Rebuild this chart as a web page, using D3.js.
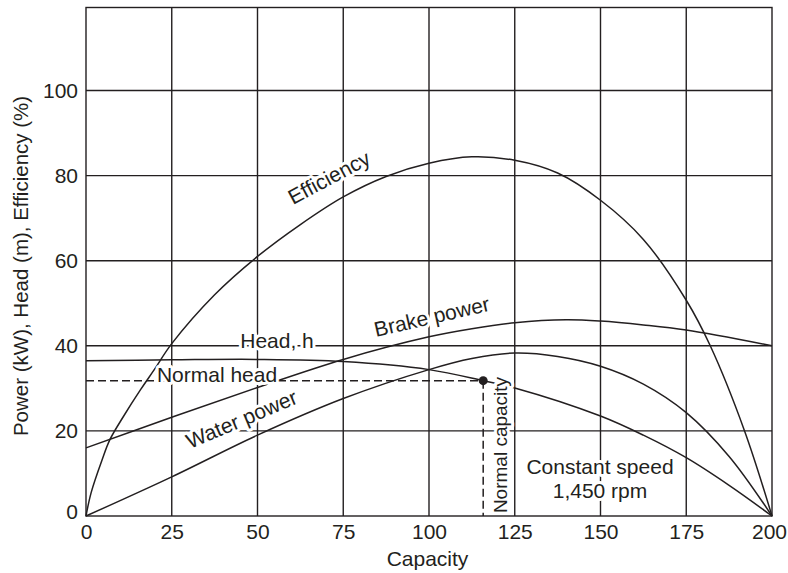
<!DOCTYPE html>
<html>
<head>
<meta charset="utf-8">
<script src="https://cdn.jsdelivr.net/npm/d3@7"></script>
<style>
  html, body { margin: 0; padding: 0; background: #fff; }
  svg { display: block; font-family: "Liberation Sans", Arial, Helvetica, sans-serif; }
</style>
</head>
<body>
<svg id="chart" width="788" height="573"></svg>
<script>
// ---- Data ----
const xTicks = [0, 25, 50, 75, 100, 125, 150, 175, 200];
const yTicks = [0, 20, 40, 60, 80, 100];

const effCapacity = [0, 1.5, 4.6, 7, 11, 16, 20, 25, 37.5, 50, 62.5, 75, 87.5, 100, 112.5, 125, 137.5, 150, 162.5, 175, 182, 192, 200];
const effValues   = [0, 5.5, 13, 18, 23.5, 29.8, 34.5, 40.5, 52, 61, 68.5, 75, 79.8, 82.9, 84.4, 83.6, 80.6, 74.2, 65, 50.7, 40, 20, 0];

const headCapacity = [0, 25, 50, 75, 100, 115.8, 125, 150, 162.5, 175, 187.5, 200];
const headValues   = [36.5, 36.7, 36.8, 36.3, 34.4, 31.8, 30.1, 23.5, 19, 13.7, 7.2, 0];

const brakeCapacity = [0, 25, 50, 75, 100, 112.5, 125, 140, 150, 162.5, 175, 200];
const brakeValues   = [16, 23.2, 30.2, 36.8, 42.1, 44, 45.4, 46.1, 45.8, 44.9, 43.7, 40];

const waterCapacity = [0, 25, 50, 75, 100, 112.5, 125, 137.5, 150, 162.5, 175, 187.5, 200];
const waterValues   = [0, 9.2, 19, 27.6, 34.4, 37, 38.3, 37.5, 35.2, 31, 24.3, 14, 0];

const normalCapacity = 115.8;
const normalHead = 31.8;

// ---- Layout ----
const svg = d3.select("#chart");
const ink = "#231f20";
const x = d3.scaleLinear().domain([0, 200]).range([86, 772]);
const y = d3.scaleLinear().domain([0, 119.5]).range([516, 7.5]);

// grid
const grid = svg.append("g").attr("stroke", ink).attr("stroke-width", 1.4).attr("fill", "none");
grid.selectAll("line.v").data(xTicks.slice(1, -1)).join("line")
  .attr("x1", d => x(d)).attr("x2", d => x(d))
  .attr("y1", y(0)).attr("y2", y.range()[1]);
grid.selectAll("line.h").data(yTicks.slice(1)).join("line")
  .attr("x1", x(0)).attr("x2", x(200))
  .attr("y1", d => y(d)).attr("y2", d => y(d));
grid.append("rect")
  .attr("x", x(0)).attr("y", y.range()[1])
  .attr("width", x(200) - x(0)).attr("height", y(0) - y.range()[1]);

// axes (labels only)
const fs = 21;
const xAxis = svg.append("g").attr("transform", `translate(0,${y(0)})`)
  .call(d3.axisBottom(x).tickValues(xTicks).tickSize(0).tickPadding(8));
const yAxis = svg.append("g").attr("transform", `translate(${x(0)},0)`)
  .call(d3.axisLeft(y).tickValues(yTicks).tickSize(0).tickPadding(8));
[xAxis, yAxis].forEach(g => {
  g.select(".domain").remove();
  g.selectAll("text").attr("font-size", fs).attr("fill", ink)
    .attr("font-family", "'Liberation Sans', Arial, sans-serif");
});
yAxis.selectAll(".tick").filter(d => d === 0).select("text").attr("y", -4);
xAxis.selectAll(".tick").filter(d => d === 200).select("text").attr("x", -3);

// curves
const line = d3.line().x(d => x(d[0])).y(d => y(d[1])).curve(d3.curveCatmullRom.alpha(0.5));
const series = [
  [effCapacity, effValues],
  [headCapacity, headValues],
  [brakeCapacity, brakeValues],
  [waterCapacity, waterValues]
];
svg.append("g").selectAll("path").data(series).join("path")
  .attr("d", s => line(s[0].map((c, i) => [c, s[1][i]])))
  .attr("fill", "none").attr("stroke", ink).attr("stroke-width", 1.5);

// normal point dashed guides
const dash = svg.append("g").attr("stroke", ink).attr("stroke-width", 1.5).attr("stroke-dasharray", "8,4");
dash.append("line").attr("x1", x(0)).attr("x2", x(normalCapacity))
  .attr("y1", y(normalHead)).attr("y2", y(normalHead));
dash.append("line").attr("x1", x(normalCapacity)).attr("x2", x(normalCapacity))
  .attr("y1", y(normalHead)).attr("y2", y(0));
svg.append("circle").attr("cx", x(normalCapacity)).attr("cy", y(normalHead)).attr("r", 4.5).attr("fill", ink);

// in-plot labels with white halo
const labels = svg.append("g").attr("font-size", fs).attr("fill", ink)
  .attr("stroke", "#fff").attr("stroke-width", 6).attr("stroke-linejoin", "round")
  .style("paint-order", "stroke");
function lab(text, tx, ty, rot, anchor, size) {
  const t = labels.append("text").text(text)
    .attr("transform", `translate(${tx},${ty}) rotate(${rot})`)
    .attr("text-anchor", anchor);
  if (size) t.attr("font-size", size);
  return t;
}
lab("Efficiency", 293, 205, -28, "start");
lab("Brake power", 376, 337, -13, "start");
lab("Water power", 190, 449, -23, "start");
lab("Head, h", 277, 348, 0, "middle");
lab("Normal head", 217, 382, 0, "middle");
lab("Normal capacity", 507, 445, -90, "middle", 19);
lab("Constant speed", 600, 474, 0, "middle");
lab("1,450 rpm", 600, 498, 0, "middle");

// axis titles
svg.append("text").text("Capacity").attr("x", 427.5).attr("y", 566)
  .attr("text-anchor", "middle").attr("font-size", fs).attr("fill", ink);
svg.append("text").text("Power (kW), Head (m), Efficiency (%)")
  .attr("transform", "translate(27.5,266) rotate(-90)")
  .attr("text-anchor", "middle").attr("font-size", fs - 0.5).attr("fill", ink);
</script>
</body>
</html>
